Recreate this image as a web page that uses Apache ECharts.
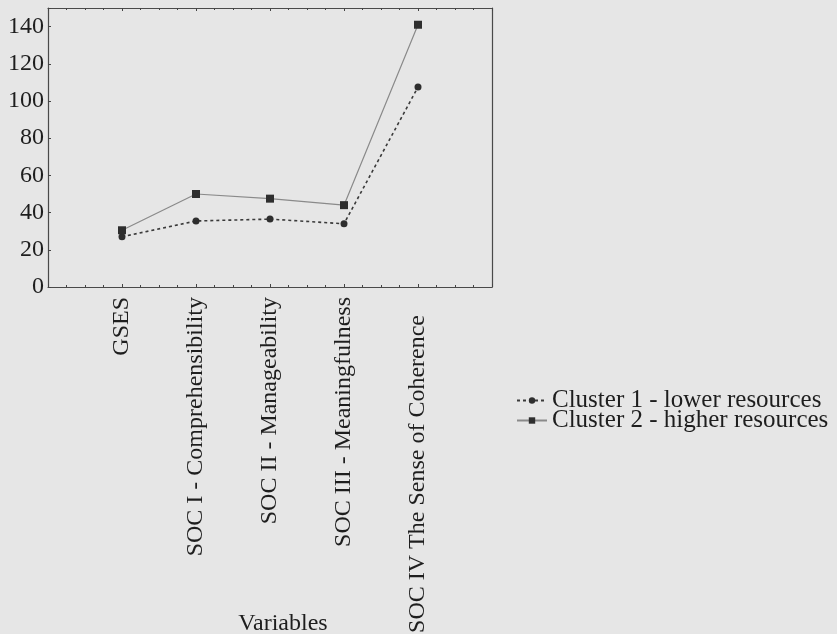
<!DOCTYPE html>
<html><head><meta charset="utf-8">
<script src="https://cdn.jsdelivr.net/npm/echarts@6/dist/echarts.min.js"></script>
<style>html,body{margin:0;padding:0;background:#e6e6e6}#c{width:837px;height:634px}</style>
</head><body><div id="c"></div>
<script>
var categories = ['GSES','SOC I - Comprehensibility','SOC II - Manageability','SOC III - Meaningfulness','SOC IV The Sense of Coherence'];
var cluster1 = [27, 35.5, 36.5, 34, 107.5];
var cluster2 = [30.5, 50, 47.5, 44, 141];
var seriesNames = ['Cluster 1 - lower resources','Cluster 2 - higher resources'];
var yTicks = [0,20,40,60,80,100,120,140];

var FONT = '"Liberation Serif","DejaVu Serif",serif';
var TXT = '#1e1e1e';
function pts(arr){ return arr.map(function(v,i){ return [i+1, v]; }); }

var legendBase = {orient: 'vertical', left: 516, itemWidth: 30, itemHeight: 8, itemGap: 0, padding: 0,
  textStyle: {fontFamily: FONT, fontSize: 25, color: TXT}};

var chart = echarts.init(document.getElementById('c'));
chart.setOption({
  backgroundColor: '#e6e6e6',
  animation: false,
  grid: {left: 48, right: 345, top: 8, bottom: 347, show: false, outerBoundsMode: 'none', containLabel: false},
  legend: [
    Object.assign({}, legendBase, {top: 388, data: [seriesNames[0]]}),
    Object.assign({}, legendBase, {top: 408, data: [seriesNames[1]]})
  ],
  xAxis: [{
    type: 'value', min: 0, max: 6, interval: 1, position: 'bottom',
    name: 'Variables', nameLocation: 'middle', nameGap: 325, nameMoveOverlap: false,
    nameTextStyle: {fontFamily: FONT, fontSize: 24, color: TXT, padding: [0,0,0,26]},
    axisLine: {show: true, onZero: false, lineStyle: {color: '#4a4a4a', width: 1.2}},
    axisTick: {show: true, inside: true, length: 3, lineStyle: {color: '#444'}},
    minorTick: {show: true, splitNumber: 4, length: 2, lineStyle: {color: '#444'}},
    splitLine: {show: false},
    axisLabel: {rotate: 90, margin: 10, fontFamily: FONT, fontSize: 24, color: TXT,
      formatter: function(v){
        if (v < 1 || v > categories.length) return '';
        var s = categories[v-1];
        return v === categories.length ? s + '\u00a0\u00a0\u00a0' : s;
      }}
  },{
    type: 'value', min: 0, max: 6, interval: 1, position: 'top',
    axisLine: {show: true, onZero: false, lineStyle: {color: '#4a4a4a', width: 1.2}},
    axisTick: {show: true, inside: true, length: 3, lineStyle: {color: '#444'}},
    minorTick: {show: true, splitNumber: 4, length: 2, lineStyle: {color: '#444'}},
    splitLine: {show: false}, axisLabel: {show: false}
  }],
  yAxis: [{
    type: 'value', min: 0, max: 150, interval: 20, position: 'left',
    axisLine: {show: true, onZero: false, lineStyle: {color: '#4a4a4a', width: 1.2}},
    axisTick: {show: true, inside: true, length: 3, lineStyle: {color: '#444'}},
    splitLine: {show: false},
    axisLabel: {margin: 4, fontFamily: FONT, fontSize: 24, color: TXT,
      formatter: function(v){ return yTicks.indexOf(v) >= 0 ? String(v) : ''; }}
  },{
    type: 'value', min: 0, max: 150, interval: 20, position: 'right',
    axisLine: {show: true, onZero: false, lineStyle: {color: '#4a4a4a', width: 1.2}},
    axisTick: {show: false}, splitLine: {show: false}, axisLabel: {show: false}
  }],
  series: [{
    name: seriesNames[0], type: 'line', data: pts(cluster1),
    symbol: 'circle', symbolSize: 7,
    itemStyle: {color: '#2e2e2e'},
    lineStyle: {color: '#3a3a3a', width: 1.6, type: [3,3]}
  },{
    name: seriesNames[1], type: 'line', data: pts(cluster2),
    symbol: 'rect', symbolSize: 8,
    itemStyle: {color: '#2e2e2e'},
    lineStyle: {color: '#8a8a8a', width: 1.2, type: 'solid'}
  }]
});
</script></body></html>
